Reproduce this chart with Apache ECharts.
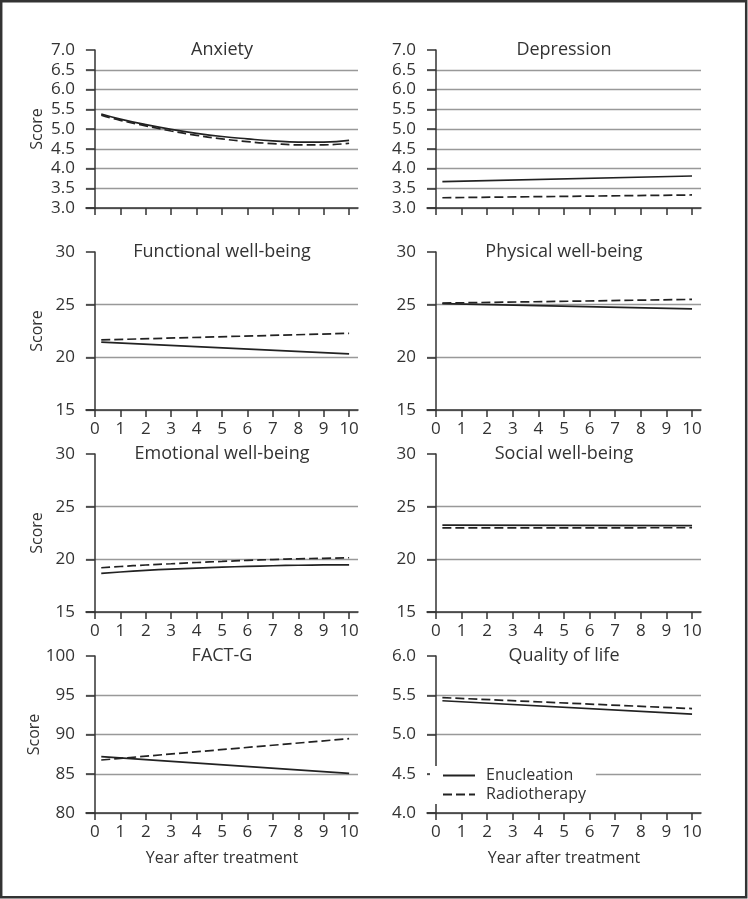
<!DOCTYPE html>
<html><head><meta charset="utf-8">
<script src="https://cdn.jsdelivr.net/npm/echarts@6/dist/echarts.min.js"></script>
<style>html,body{margin:0;padding:0;background:#fff}#c{width:748px;height:899px}</style>
</head><body><div id="c"></div><script>
// ---- data ----
const yearsCurve = [0.25, 1, 2, 3, 4, 5, 6, 7, 8, 9, 10];
const yearsLine = [0.25, 10];
const xTickValues = [0, 1, 2, 3, 4, 5, 6, 7, 8, 9, 10];
const seriesNames = ['Enucleation', 'Radiotherapy'];
const panelTitles = ['Anxiety', 'Depression', 'Functional well-being', 'Physical well-being',
  'Emotional well-being', 'Social well-being', 'FACT-G', 'Quality of life'];
const yMin = [3, 3, 15, 15, 15, 15, 80, 4];
const yMax = [7, 7, 30, 30, 30, 30, 100, 6];
const yStep = [0.5, 0.5, 5, 5, 5, 5, 5, 0.5];
const xAxisTitle = 'Year after treatment';
const yAxisTitle = 'Score';

const anxietyEnucleation = [5.38, 5.25, 5.11, 4.99, 4.89, 4.81, 4.75, 4.70, 4.67, 4.67, 4.71];
const anxietyRadiotherapy = [5.35, 5.22, 5.08, 4.95, 4.84, 4.75, 4.68, 4.63, 4.60, 4.60, 4.64];
const depressionEnucleation = [3.67, 3.81];
const depressionRadiotherapy = [3.26, 3.33];
const functionalEnucleation = [21.45, 20.32];
const functionalRadiotherapy = [21.65, 22.28];
const physicalEnucleation = [25.1, 24.6];
const physicalRadiotherapy = [25.15, 25.5];
const emotionalEnucleation = [18.67, 18.80, 18.95, 19.07, 19.17, 19.26, 19.33, 19.39, 19.44, 19.47, 19.48];
const emotionalRadiotherapy = [19.20, 19.32, 19.46, 19.58, 19.70, 19.80, 19.90, 19.98, 20.05, 20.10, 20.15];
const socialEnucleation = [23.25, 23.2];
const socialRadiotherapy = [22.98, 23.0];
const factgEnucleation = [87.18, 85.06];
const factgRadiotherapy = [86.75, 89.47];
const qolEnucleation = [5.43, 5.26];
const qolRadiotherapy = [5.47, 5.33];

const panelData = [
  [yearsCurve, anxietyEnucleation, anxietyRadiotherapy],
  [yearsLine, depressionEnucleation, depressionRadiotherapy],
  [yearsLine, functionalEnucleation, functionalRadiotherapy],
  [yearsLine, physicalEnucleation, physicalRadiotherapy],
  [yearsCurve, emotionalEnucleation, emotionalRadiotherapy],
  [yearsLine, socialEnucleation, socialRadiotherapy],
  [yearsLine, factgEnucleation, factgRadiotherapy],
  [yearsLine, qolEnucleation, qolRadiotherapy]
];

// ---- layout ----
const FONT = '"Open Sans", "Noto Sans", sans-serif';
const TXT = '#333';
const AX = '#333';
const GRIDC = '#999';
const colLeft = [86, 427];
const colWidth = [272, 274];
const rowTop = [50, 252, 454, 656];
const rowHeight = [158, 158, 158, 157];

const grids = [], xAxes = [], yAxes = [], series = [], graphics = [];
for (let i = 0; i < 8; i++) {
  const c = i % 2, r = Math.floor(i / 2);
  grids.push({ left: colLeft[c], top: rowTop[r], width: colWidth[c], height: rowHeight[r] });
  xAxes.push({
    type: 'value', gridIndex: i, min: -0.35, max: 10.35,
    axisLine: { show: true, lineStyle: { color: AX, width: 1.5 } },
    axisTick: { show: true, customValues: xTickValues, length: 7, lineStyle: { color: AX, width: 1.5 } },
    axisLabel: { show: r > 0, customValues: xTickValues, margin: 11, fontSize: 17, color: TXT, fontFamily: FONT },
    splitLine: { show: false },
    name: r === 3 ? xAxisTitle : '', nameLocation: 'middle', nameGap: 37,
    nameTextStyle: { fontSize: 16, color: TXT, fontFamily: FONT }
  });
  const dec = yStep[i] < 1 ? 1 : 0;
  yAxes.push({
    type: 'value', gridIndex: i, min: yMin[i], max: yMax[i], interval: yStep[i],
    axisLine: { show: true, lineStyle: { color: AX, width: 1.5 } },
    axisTick: { show: true, length: 9, lineStyle: { color: AX, width: 1.5 } },
    axisLabel: { margin: 11, fontSize: 17, color: TXT, fontFamily: FONT, formatter: v => v.toFixed(dec) },
    splitLine: { show: true, showMaxLine: false, lineStyle: { color: GRIDC, width: 1.3 } },
    name: c === 0 ? yAxisTitle : '', nameLocation: 'middle', nameGap: 41,
    nameTextStyle: { fontSize: 16, color: TXT, fontFamily: FONT }
  });
  const [xs, e, rt] = panelData[i];
  const smooth = xs.length > 2;
  series.push({
    name: seriesNames[0], type: 'line', xAxisIndex: i, yAxisIndex: i, symbol: 'none', smooth: smooth,
    lineStyle: { color: '#222', width: 1.7, type: 'solid' }, itemStyle: { color: '#222' },
    data: xs.map((x, k) => [x, e[k]]), z: 3
  });
  series.push({
    name: seriesNames[1], type: 'line', xAxisIndex: i, yAxisIndex: i, symbol: 'none', smooth: smooth,
    lineStyle: { color: '#222', width: 1.7, type: [9, 4] }, itemStyle: { color: '#222' },
    data: xs.map((x, k) => [x, rt[k]]), z: 3
  });
  graphics.push({
    type: 'text', x: colLeft[c] + colWidth[c] / 2, y: rowTop[r],
    style: { text: panelTitles[i], fill: TXT, font: '18px ' + FONT, textAlign: 'center', textVerticalAlign: 'middle' },
    z: 10
  });
}
graphics.push({
  type: 'rect', shape: { x: 1.2, y: 1.2, width: 745, height: 896 },
  style: { fill: 'none', stroke: '#333', lineWidth: 2.5 }, z: 20
});

const chart = echarts.init(document.getElementById('c'), null, { renderer: 'canvas' });
chart.setOption({
  animation: false,
  backgroundColor: '#fff',
  grid: grids, xAxis: xAxes, yAxis: yAxes, series: series,
  legend: {
    data: seriesNames, orient: 'vertical', left: 430, top: 766,
    itemWidth: 32, itemHeight: 14, itemGap: 2,
    itemStyle: { opacity: 0 },
    backgroundColor: '#fff', padding: [1, 10, 1, 12],
    textStyle: { fontSize: 16, color: TXT, fontFamily: FONT, lineHeight: 17, padding: [0, 0, 0, 6] },
    selectedMode: false
  },
  graphic: graphics
});
</script></body></html>
